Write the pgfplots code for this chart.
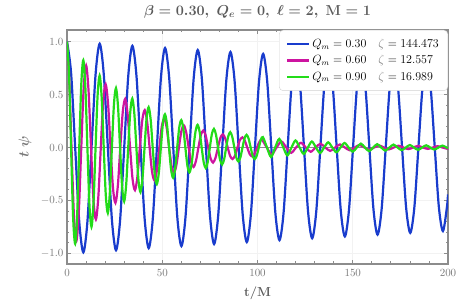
\documentclass[border=0pt]{standalone}
\usepackage{pgfplots}
\pgfplotsset{compat=1.18}
\definecolor{cblue}{RGB}{25,60,205}
\definecolor{cmag}{RGB}{205,20,160}
\definecolor{cgreen}{RGB}{35,220,25}
\definecolor{framegray}{RGB}{140,140,140}
\definecolor{labgray}{RGB}{120,120,120}
\definecolor{titlegray}{RGB}{90,90,90}
\begin{document}
\begin{tikzpicture}
\begin{axis}[
  name=ax,
  scale only axis, width=381pt, height=234pt,
  xmin=0, xmax=200, ymin=-1.1, ymax=1.11,
  axis line style={framegray, line width=1.6pt},
  xtick={0,50,100,150,200}, ytick={-1,-0.5,0,0.5,1},
  minor x tick num=4, minor y tick num=4,
  tick align=inside, major tick length=4pt, minor tick length=2.5pt,
  tick style={framegray, line width=0.8pt},
  tick label style={labgray, font=\fontsize{11}{13}\selectfont},
  yticklabel style={/pgf/number format/fixed, /pgf/number format/fixed zerofill, /pgf/number format/precision=1},
  xticklabel style={yshift=-2pt},
  grid=major, grid style={gray!10, line width=0.6pt},
  legend style={at={(1,1)}, anchor=north east, draw=gray!35, rounded corners=4pt, fill=white,
    font=\fontsize{12}{14}\selectfont, inner xsep=7pt, inner ysep=7pt, row sep=2.5pt},
  legend cell align=left,
  legend image code/.code={\draw[mark repeat=2,mark phase=2,#1] plot coordinates {(0pt,0pt) (11pt,0pt) (22pt,0pt)};},
]
\addplot[framegray, line width=0.9pt, forget plot] coordinates {(0,0) (200,0)};
\addplot[cblue, line width=2.2pt, smooth] coordinates {
(0,1.000) (2.145,0.705) (4.29,0) (6.435,-0.702) (8.58,-0.990) (10.725,-0.698) (12.87,0) (15.015,0.694) (17.16,0.980) (19.305,0.691) (21.45,0) (23.595,-0.687) (25.74,-0.970) (27.885,-0.684) (30.03,0) (32.175,0.680) (34.32,0.960) (36.465,0.677) (38.61,0) (40.755,-0.673) (42.90,-0.950) (45.045,-0.670) (47.19,0) (49.335,0.666) (51.48,0.940) (53.625,0.663) (55.77,0) (57.915,-0.660) (60.06,-0.931) (62.205,-0.656) (64.35,0) (66.495,0.653) (68.64,0.921) (70.785,0.650) (72.93,0) (75.075,-0.646) (77.22,-0.912) (79.365,-0.643) (81.51,0) (83.655,0.640) (85.80,0.902) (87.945,0.636) (90.09,0) (92.235,-0.633) (94.38,-0.893) (96.525,-0.630) (98.67,0) (100.815,0.627) (102.96,0.884) (105.105,0.623) (107.25,0) (109.395,-0.620) (111.54,-0.875) (113.685,-0.617) (115.83,0) (117.975,0.614) (120.12,0.866) (122.265,0.611) (124.41,0) (126.555,-0.608) (128.70,-0.857) (130.845,-0.604) (132.99,0) (135.135,0.601) (137.28,0.848) (139.425,0.598) (141.57,0) (143.715,-0.595) (145.86,-0.840) (148.005,-0.592) (150.15,0) (152.295,0.589) (154.44,0.831) (156.585,0.586) (158.73,0) (160.875,-0.583) (163.02,-0.823) (165.165,-0.580) (167.31,0) (169.455,0.577) (171.60,0.814) (173.745,0.574) (175.89,0) (178.035,-0.571) (180.18,-0.806) (182.325,-0.568) (184.47,0) (186.615,0.565) (188.76,0.798) (190.905,0.563) (193.05,0) (195.195,-0.560) (197.34,-0.789) (199.485,-0.557) (200,-0.442)
};
\addlegendentry{$Q_m = 0.30\quad \textcolor{labgray}{\zeta} = 144.473$}
\addplot[cmag, line width=2.2pt, smooth] coordinates {
(0,0.990) (1.081,0.688) (2.363,0) (3.644,-0.644) (4.925,-0.882) (6.206,-0.604) (7.488,0) (8.769,0.565)
(10.05,0.774) (11.331,0.530) (12.613,0) (13.894,-0.496) (15.175,-0.679) (16.456,-0.465) (17.738,0) (19.019,0.435)
(20.30,0.596) (21.581,0.408) (22.863,0) (24.144,-0.382) (25.425,-0.523) (26.706,-0.358) (27.988,0) (29.269,0.335)
(30.55,0.459) (31.831,0.314) (33.113,0) (34.394,-0.294) (35.675,-0.403) (36.956,-0.276) (38.238,0) (39.519,0.258)
(40.80,0.353) (42.081,0.242) (43.363,0) (44.644,-0.227) (45.925,-0.310) (47.206,-0.212) (48.488,0) (49.769,0.199)
(51.05,0.272) (52.331,0.186) (53.613,0) (54.894,-0.174) (56.175,-0.239) (57.456,-0.163) (58.738,0) (60.019,0.153)
(61.30,0.210) (62.581,0.143) (63.863,0) (65.144,-0.134) (66.425,-0.184) (67.706,-0.126) (68.988,0) (70.269,0.118)
(71.55,0.161) (72.831,0.110) (74.113,0) (75.394,-0.103) (76.675,-0.142) (77.956,-0.097) (79.238,0) (80.519,0.091)
(81.80,0.124) (83.081,0.085) (84.363,0) (85.644,-0.080) (86.925,-0.109) (88.206,-0.075) (89.488,0) (90.769,0.070)
(92.05,0.096) (93.331,0.065) (94.613,0) (95.894,-0.061) (97.175,-0.084) (98.456,-0.057) (99.738,0) (101.019,0.054)
(102.30,0.074) (104.863,0) (107.425,-0.065) (109.988,0)
(112.55,0.057) (115.113,0) (117.675,-0.050) (120.238,0)
(122.80,0.045) (125.363,0) (127.925,-0.040) (130.488,0)
(133.05,0.036) (135.613,0) (138.175,-0.032) (140.738,0)
(143.30,0.029) (145.863,0) (148.425,-0.026) (150.988,0)
(153.55,0.024) (156.113,0) (158.675,-0.021) (161.238,0)
(163.80,0.020) (166.363,0) (168.925,-0.018) (171.488,0)
(174.05,0.017) (176.613,0) (179.175,-0.015) (181.738,0)
(184.30,0.015) (186.863,0) (189.425,-0.013) (191.988,0)
(194.55,0.013) (197.113,0) (199.675,-0.012) (200,-0.012)
};
\addlegendentry{$Q_m = 0.60\quad \textcolor{labgray}{\zeta} = 12.557$}
\addplot[cgreen, line width=2.2pt, smooth] coordinates {
(0,1.000) (1.071,0.690) (2.143,0) (3.214,-0.658) (4.285,-0.908) (5.356,-0.627) (6.428,0) (7.499,0.597)
(8.57,0.825) (9.641,0.569) (10.713,0) (11.784,-0.542) (12.855,-0.749) (13.926,-0.517) (14.998,0) (16.069,0.493)
(17.14,0.680) (18.211,0.469) (19.283,0) (20.354,-0.447) (21.425,-0.618) (22.496,-0.426) (23.568,0) (24.639,0.406)
(25.71,0.561) (26.781,0.387) (27.853,0) (28.924,-0.369) (29.995,-0.509) (31.066,-0.351) (32.138,0) (33.209,0.335)
(34.28,0.462) (35.351,0.319) (36.423,0) (37.494,-0.304) (38.565,-0.420) (39.636,-0.290) (40.708,0) (41.779,0.276)
(42.85,0.381) (43.921,0.263) (44.993,0) (46.064,-0.251) (47.135,-0.346) (48.206,-0.239) (49.278,0) (50.349,0.228)
(51.42,0.314) (52.491,0.217) (53.563,0) (54.634,-0.207) (55.705,-0.286) (56.776,-0.197) (57.848,0) (58.919,0.188)
(59.99,0.259) (61.061,0.179) (62.133,0) (63.204,-0.171) (64.275,-0.235) (65.346,-0.163) (66.418,0) (67.489,0.155)
(68.56,0.214) (69.631,0.148) (70.703,0) (71.774,-0.141) (72.845,-0.194) (73.916,-0.134) (74.988,0) (76.059,0.128)
(77.13,0.176) (78.201,0.122) (79.273,0) (80.344,-0.116) (81.415,-0.160) (82.486,-0.111) (83.558,0) (84.629,0.105)
(85.70,0.145) (86.771,0.100) (87.843,0) (88.914,-0.096) (89.985,-0.132) (91.056,-0.091) (92.128,0) (93.199,0.087)
(94.27,0.120) (95.341,0.083) (96.413,0) (97.484,-0.079) (98.555,-0.109) (99.626,-0.075) (100.698,0) (101.769,0.072)
(102.84,0.099) (104.983,0) (107.125,-0.090) (109.268,0)
(111.41,0.082) (113.553,0) (115.695,-0.074) (117.838,0)
(119.98,0.067) (122.123,0) (124.265,-0.061) (126.408,0)
(128.55,0.057) (130.693,0) (132.835,-0.052) (134.978,0)
(137.12,0.049) (139.263,0) (141.405,-0.045) (143.548,0)
(145.69,0.043) (147.833,0) (149.975,-0.039) (152.118,0)
(154.26,0.037) (156.403,0) (158.545,-0.034) (160.688,0)
(162.83,0.032) (164.973,0) (167.115,-0.029) (169.258,0)
(171.40,0.028) (173.543,0) (175.685,-0.025) (177.828,0)
(179.97,0.024) (182.113,0) (184.255,-0.022) (186.398,0)
(188.54,0.021) (190.683,0) (192.825,-0.019) (194.968,0)
(197.11,0.018) (199.253,0) (200,-0.006)
};
\addlegendentry{$Q_m = 0.90\quad \textcolor{labgray}{\zeta} = 16.989$}
\end{axis}
\node[anchor=center, text=titlegray, font=\fontsize{14}{16}\selectfont] at ([yshift=18pt]ax.north) {{\boldmath$\beta = 0.30,\ Q_e = 0,\ \ell = 2,\ \mathbf{M} = 1$}};
\node[anchor=center, text=titlegray, font=\fontsize{13}{15}\selectfont] at ([yshift=-29pt]ax.south) {\textbf{t/M}};
\node[anchor=center, rotate=90, text=labgray, font=\fontsize{15}{17}\selectfont] at ([xshift=-42pt]ax.west) {{\boldmath$t\ \psi$}};
\pgfresetboundingbox
\path[use as bounding box] ([xshift=-67pt,yshift=-41pt]ax.south west) rectangle ([xshift=10pt,yshift=30pt]ax.north east);
\end{tikzpicture}
\end{document}
